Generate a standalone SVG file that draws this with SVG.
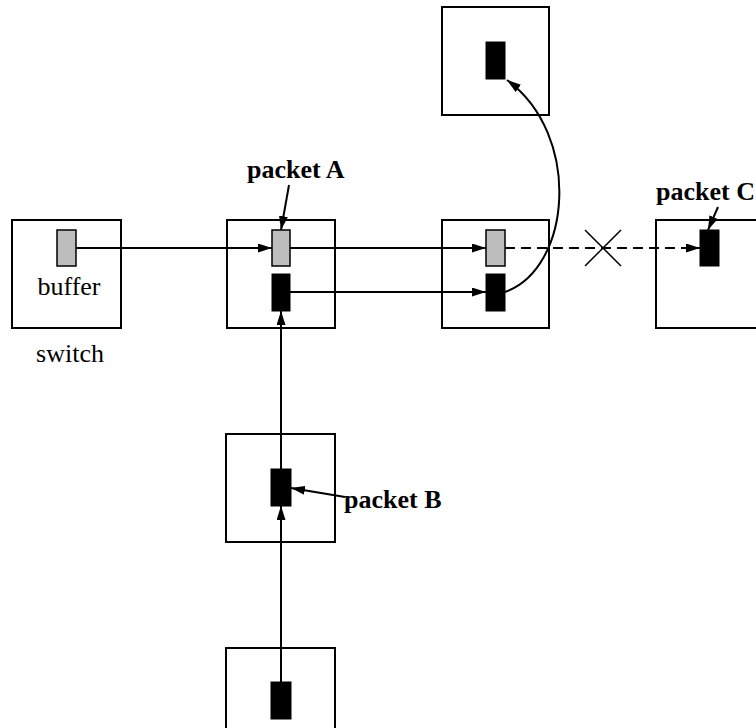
<svg xmlns="http://www.w3.org/2000/svg" width="756" height="728" viewBox="0 0 756 728">
<style>
.box{fill:none;stroke:#000;stroke-width:2}
.gray{fill:#bdbdbd;stroke:#000;stroke-width:1.5}
.blk{fill:#000;stroke:#000;stroke-width:1}
.ln{fill:none;stroke:#000;stroke-width:2}
.dash{stroke-dasharray:10,6}
.lbl{font-family:"Liberation Serif","Times New Roman",serif;font-size:26px;fill:#000}
.bold{font-weight:bold}
</style>
<defs>
<marker id="ah" markerUnits="userSpaceOnUse" markerWidth="14" markerHeight="9" refX="14" refY="4.5" orient="auto">
<path d="M0,0 L14,4.5 L0,9 z" fill="#000"/>
</marker>
</defs>
<rect width="756" height="728" fill="#fff"/>
<g id="switch1">
<rect class="box" x="12" y="220" width="109" height="108"/>
<rect class="gray" x="57" y="230" width="19" height="36"/>
<text class="lbl" x="69" y="295" text-anchor="middle">buffer</text>
<text class="lbl" x="70" y="362" text-anchor="middle">switch</text>
</g>
<g id="switch2">
<rect class="box" x="227" y="220" width="108" height="108"/>
<rect class="gray" x="272" y="230" width="18" height="36"/>
<rect class="blk" x="272" y="274" width="18" height="37"/>
<text class="lbl bold" x="247" y="178">packet A</text>
</g>
<g id="switch3">
<rect class="box" x="442" y="220" width="107" height="108"/>
<rect class="gray" x="486" y="230" width="19" height="36"/>
<rect class="blk" x="486" y="274" width="19" height="37"/>
</g>
<g id="switch-top">
<rect class="box" x="442" y="7" width="107" height="108"/>
<rect class="blk" x="486" y="42" width="19" height="37"/>
</g>
<g id="switch4">
<rect class="box" x="656" y="220" width="108" height="108"/>
<rect class="blk" x="700" y="230" width="19" height="36"/>
<text class="lbl bold" x="656" y="200">packet C</text>
</g>
<g id="switch5">
<rect class="box" x="226" y="434" width="109" height="108"/>
<rect class="blk" x="271" y="469" width="20" height="37"/>
<text class="lbl bold" x="344" y="508">packet B</text>
</g>
<g id="switch6">
<rect class="box" x="226" y="648" width="109" height="100"/>
<rect class="blk" x="271" y="682" width="20" height="37"/>
</g>
<g id="connectors">
<line class="ln" x1="76" y1="248" x2="272" y2="248" marker-end="url(#ah)"/>
<line class="ln" x1="290" y1="248" x2="486" y2="248" marker-end="url(#ah)"/>
<line class="ln" x1="290" y1="292" x2="486" y2="292" marker-end="url(#ah)"/>
<line class="ln dash" x1="505" y1="248" x2="700" y2="248" marker-end="url(#ah)"/>
<path class="ln" d="M505,292 C572,268 582,135 507,80" marker-end="url(#ah)"/>
<line class="ln" x1="281" y1="682" x2="281" y2="506" marker-end="url(#ah)"/>
<line class="ln" x1="281" y1="469" x2="281" y2="311" marker-end="url(#ah)"/>
<line class="ln" x1="289" y1="185" x2="281" y2="230" marker-end="url(#ah)"/>
<line class="ln" x1="718" y1="207" x2="708" y2="230" marker-end="url(#ah)"/>
<line class="ln" x1="345" y1="497" x2="291" y2="488" marker-end="url(#ah)"/>
<line stroke="#000" stroke-width="1.5" x1="585" y1="230" x2="621" y2="266"/>
<line stroke="#000" stroke-width="1.5" x1="621" y1="230" x2="585" y2="266"/>
</g>
</svg>
